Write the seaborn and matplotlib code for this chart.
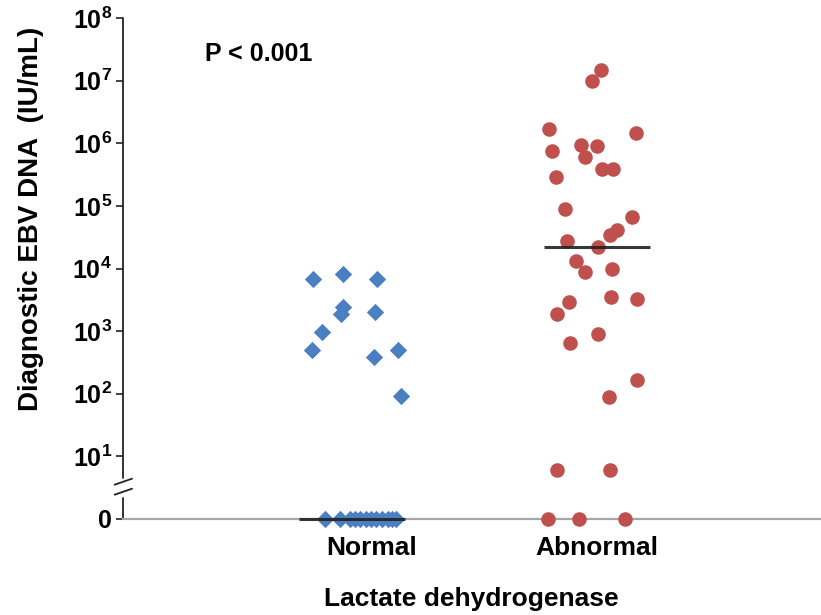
import numpy as np
import pandas as pd
import matplotlib
matplotlib.use("Agg")
import matplotlib.pyplot as plt
import seaborn as sns

# ---- data ----
categories = ["Normal", "Abnormal"]
normal_values = [6900, 8200, 6900, 2450, 1860, 2000, 960, 500, 390, 500, 92,
                 0, 0, 0, 0, 0, 0, 0, 0, 0, 0, 0, 0]
normal_jitter = [-0.160, -0.038, 0.101, -0.038, -0.045, 0.095, -0.122, -0.164, 0.091, 0.189, 0.200,
                 -0.110, -0.049, -0.008, 0.012, 0.033, 0.057, 0.078, 0.098, 0.122, 0.147, 0.163, 0.180]
abnormal_values = [1.5e7, 1.0e7, 1.67e6, 1.48e6, 9.4e5, 8.9e5, 7.4e5, 6.1e5, 3.9e5, 3.9e5, 2.9e5,
                   8.9e4, 6.7e4, 4.1e4, 3.4e4, 2.7e4, 2.2e4, 1.3e4, 8.9e3, 1.0e4, 2.9e3, 1.9e3,
                   3.5e3, 3.2e3, 910, 640, 166, 88, 6.1, 6.1, 0, 0, 0]
abnormal_jitter = [0.015, -0.020, -0.196, 0.159, -0.065, -0.001, -0.185, -0.048, 0.022, 0.067, -0.167,
                   -0.129, 0.143, 0.080, 0.053, -0.124, 0.005, -0.086, -0.048, 0.060, -0.113, -0.162,
                   0.058, 0.164, 0.004, -0.110, 0.163, 0.050, -0.162, 0.053, -0.201, -0.075, 0.116]
ytick_exponents = [0, 1, 2, 3, 4, 5, 6, 7, 8]
p_text = "P < 0.001"
y_label = "Diagnostic EBV DNA  (IU/mL)"
x_label = "Lactate dehydrogenase"

# ---- style ----
sns.set_style("white")
plt.rcParams["font.family"] = ["Liberation Sans", "DejaVu Sans"]
plt.rcParams["font.weight"] = "bold"
plt.rcParams["mathtext.fontset"] = "custom"
plt.rcParams["mathtext.rm"] = "Liberation Sans:bold"
plt.rcParams["mathtext.bf"] = "Liberation Sans:bold"
plt.rcParams["mathtext.it"] = "Liberation Sans:bold"
for k in ["text.color", "axes.labelcolor", "xtick.color", "ytick.color"]:
    plt.rcParams[k] = "black"

colors = {"Normal": "#4a7fc1", "Abnormal": "#c0504d"}

rows = []
for i, (cat, vals, jit) in enumerate([("Normal", normal_values, normal_jitter),
                                       ("Abnormal", abnormal_values, abnormal_jitter)]):
    for v, j in zip(vals, jit):
        rows.append({"group": cat, "value": v, "x": i + j,
                     "yplot": v if v > 0 else 1.0})
df = pd.DataFrame(rows)

fig = plt.figure(figsize=(8.21, 6.15), dpi=100)
ax = fig.add_axes([123 / 821, 1 - 519 / 615, 697 / 821, 501 / 615])

sns.scatterplot(data=df[df.group == "Normal"], x="x", y="yplot", marker="D",
                color=colors["Normal"], s=78, linewidth=0, ax=ax, clip_on=False,
                zorder=3, legend=False)
sns.scatterplot(data=df[df.group == "Abnormal"], x="x", y="yplot", marker="o",
                color=colors["Abnormal"], s=110, linewidth=0, ax=ax, clip_on=False,
                zorder=3, legend=False)

# median lines
for i, vals in enumerate([normal_values, abnormal_values]):
    med = np.median(vals)
    ax.plot([i - 0.215, i + 0.215], [max(med, 1.0)] * 2, color="#222222",
            lw=2.2, alpha=0.9, zorder=4, clip_on=False, solid_capstyle="butt")

ax.set_yscale("log")
ax.set_ylim(1, 1e8)
ax.set_xlim(-0.935, 1.910)
ax.set_yticks([10.0 ** e for e in ytick_exponents])
ax.set_yticklabels(["0" if e == 0 else r"$\mathbf{10^{%d}}$" % e for e in ytick_exponents],
                   fontsize=18, fontweight="bold")
ax.yaxis.set_minor_locator(matplotlib.ticker.NullLocator())
ax.tick_params(axis="y", which="major", direction="out", length=5, width=1.2,
               color="#222222", pad=3, left=True)
ax.set_xticks([0.078, 1.0])
ax.set_xticklabels(categories, fontsize=19, fontweight="bold")
ax.tick_params(axis="x", length=0, pad=12)

ax.set_xlabel(x_label, fontsize=19, fontweight="bold", labelpad=20)
ax.set_ylabel(y_label, fontsize=20, fontweight="bold")
ax.yaxis.set_label_coords(-0.113, 0.6)

for s in ["top", "right", "left"]:
    ax.spines[s].set_visible(False)
ax.spines["bottom"].set_color("#a6a6a6")
ax.spines["bottom"].set_linewidth(1.6)

# broken left axis
lw = 1.3
ax.plot([0, 0], [0, 0.042], transform=ax.transAxes, color="#222222", lw=lw, clip_on=False)
ax.plot([0, 0], [0.082, 1.0], transform=ax.transAxes, color="#222222", lw=lw, clip_on=False)
for yb in [0.0545, 0.0745]:
    ax.plot([-0.012, 0.013], [yb - 0.006, yb + 0.006], transform=ax.transAxes,
            color="#222222", lw=lw, clip_on=False)

ax.text(0.118, 0.928, p_text, transform=ax.transAxes, fontsize=18,
        fontweight="bold", ha="left", va="center")

fig.savefig("out.png", dpi=100, facecolor="white")
